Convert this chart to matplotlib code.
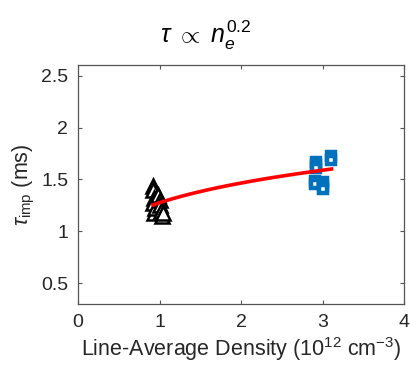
import numpy as np
import matplotlib
matplotlib.use("Agg")
import matplotlib.pyplot as plt

plt.rcParams['font.family'] = ['Liberation Sans', 'DejaVu Sans']
plt.rcParams['mathtext.fontset'] = 'custom'
plt.rcParams['mathtext.rm'] = 'Liberation Sans'
plt.rcParams['mathtext.it'] = 'Liberation Sans:italic'

# --- data
low_density = [0.92, 0.92, 0.93, 0.92, 0.93, 0.95, 0.98, 1.00, 1.00, 1.02, 1.03, 1.04]
low_tau = [1.44, 1.40, 1.32, 1.27, 1.18, 1.22, 1.35, 1.30, 1.25, 1.20, 1.15, 1.18]

high_density = [2.92, 2.92, 2.92, 3.11, 3.11, 2.91, 2.91, 3.00, 3.00, 3.00]
high_tau = [1.67, 1.64, 1.61, 1.73, 1.69, 1.48, 1.46, 1.47, 1.44, 1.41]

fit_exponent = 0.2
fit_coeff = 1.275

x_ticks = [0, 1, 2, 3, 4]
y_ticks = [0.5, 1, 1.5, 2, 2.5]

# --- figure
fig = plt.figure(figsize=(4.11, 3.71), dpi=100)
ax = fig.add_axes([0.19, 0.181, 0.793, 0.643])

ax.plot(low_density, low_tau, linestyle='none', marker='^', markersize=10,
        markerfacecolor='white', markeredgecolor='black', markeredgewidth=1.8)
ax.plot(high_density, high_tau, linestyle='none', marker='s', markersize=6.2,
        markerfacecolor='white', markeredgecolor='#0072BD', markeredgewidth=3.2)

# power-law fit curve over the data range
all_x = np.array(low_density + high_density)
xfit = np.linspace(all_x.min(), all_x.max(), 100)
ax.plot(xfit, fit_coeff * xfit ** fit_exponent, color='red', linewidth=2.6)

ax.set_xlim(0, 4)
ax.set_ylim(0.3, 2.6)
ax.set_xticks(x_ticks)
ax.set_yticks(y_ticks)
ax.set_xticklabels([str(t) for t in x_ticks])
ax.set_yticklabels(['0.5', '1', '1.5', '2', '2.5'])

for s in ax.spines.values():
    s.set_color('#555555')
    s.set_linewidth(0.9)
ax.tick_params(direction='in', top=True, right=True, length=3, width=0.8,
               color='#555555', labelcolor='#262626', labelsize=14, pad=7)

ax.set_xlabel(r'Line-Average Density (10$^{12}$ cm$^{-3}$)', fontsize=15.5,
              color='#262626', labelpad=3)
ax.set_ylabel(r'$\tau_{\rm imp}$ (ms)', fontsize=15.5, color='#262626', labelpad=3)
fig.suptitle(r'$\tau\ \propto\ n_e^{0.2}$', fontsize=18, y=0.95, x=0.5)

fig.savefig('out.png', dpi=100)
